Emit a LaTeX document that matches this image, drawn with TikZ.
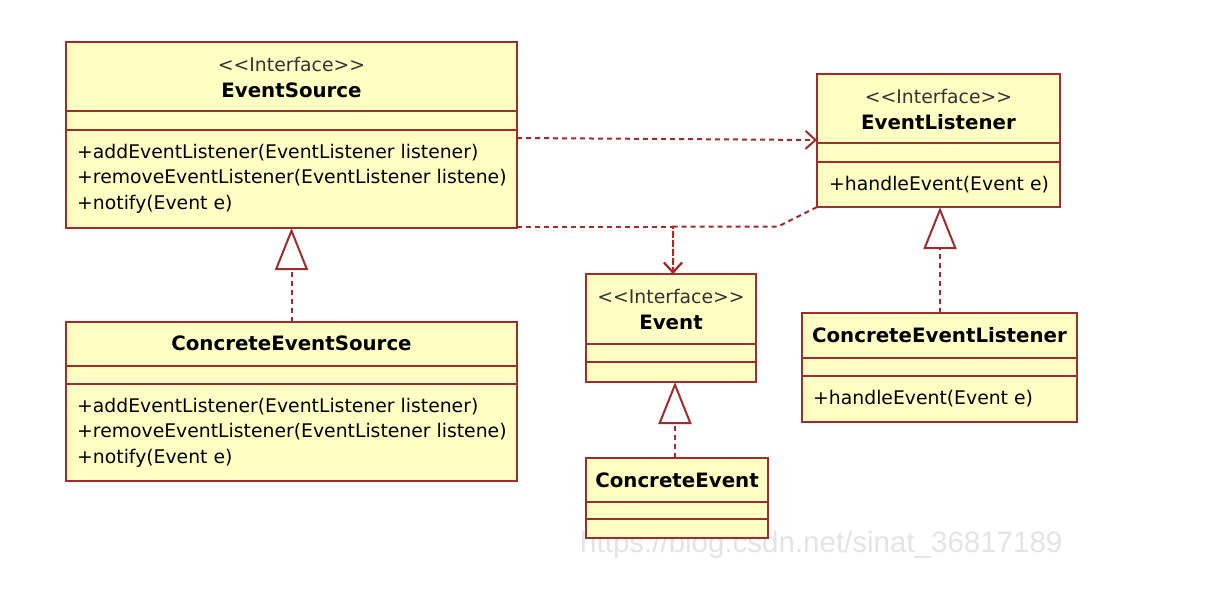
\documentclass[tikz,border=0pt]{standalone}
\usepackage{fontspec}
\setmainfont{DejaVu Sans}
\newfontfamily\wmfont{Liberation Sans}
\usetikzlibrary{arrows.meta}
\definecolor{umlborder}{RGB}{160,45,45}
\definecolor{umlfill}{RGB}{255,255,196}
\definecolor{wmgray}{RGB}{228,228,228}
\newcommand\stereoI{<\kern0pt<Interface>\kern0pt>}
\begin{document}
\begin{tikzpicture}[x=1pt,y=-1pt,
  cls/.style={draw=umlborder, fill=umlfill, line width=2pt, anchor=north west, inner sep=0pt, outer sep=0pt},
  sep/.style={draw=umlborder, line width=2pt},
  txt/.style={font=\fontsize{18.8}{21}\selectfont, inner sep=0pt, text=black, anchor=base},
  ster/.style={txt, text=black!80},
  ttl/.style={txt, font=\fontsize{19.8}{22}\selectfont\bfseries},
  meth/.style={txt, anchor=base west},
  dep/.style={draw=umlborder, line width=2pt, dash pattern=on 5pt off 4pt, -{Straight Barb[length=10pt,width=18pt]}},
  real/.style={draw=umlborder, line width=2pt, dash pattern=on 5pt off 4pt, -{Triangle[open,length=42pt,width=33pt]}},
]
\useasboundingbox (0,0) rectangle (1210,595);
\fill[white] (0,0) rectangle (1210,595);

% watermark
\node[anchor=west, inner sep=0pt, text=wmgray, font=\wmfont\fontsize{29.5}{32}\selectfont] (wm) at (580,545) {https://blog.csdn.net/sinat\_36817189};

% ---------- EventSource
\node[cls, minimum width=451pt, minimum height=186pt] (es) at (66,42) {};
\draw[sep] ([yshift=-69pt]es.north west) -- ([yshift=-69pt]es.north east);
\draw[sep] ([yshift=-88pt]es.north west) -- ([yshift=-88pt]es.north east);
\node[ster] (esS) at ([yshift=-29pt]es.north) {\stereoI};
\node[ttl] (esT) at ([yshift=-55pt]es.north) {EventSource};
\node[meth] (esM1) at ([xshift=11pt,yshift=-116pt]es.north west) {+addEventListener(EventListener listener)};
\node[meth] (esM2) at ([xshift=11pt,yshift=-141.5pt]es.north west) {+removeEventListener(EventListener listene)};
\node[meth] (esM3) at ([xshift=11pt,yshift=-167pt]es.north west) {+notify(Event e)};

% ---------- ConcreteEventSource
\node[cls, minimum width=451pt, minimum height=159pt] (ces) at (66,322) {};
\draw[sep] ([yshift=-44pt]ces.north west) -- ([yshift=-44pt]ces.north east);
\draw[sep] ([yshift=-62pt]ces.north west) -- ([yshift=-62pt]ces.north east);
\node[ttl] (cesT) at ([yshift=-28pt]ces.north) {ConcreteEventSource};
\node[meth] (cesM1) at ([xshift=11pt,yshift=-90pt]ces.north west) {+addEventListener(EventListener listener)};
\node[meth] (cesM2) at ([xshift=11pt,yshift=-115.5pt]ces.north west) {+removeEventListener(EventListener listene)};
\node[meth] (cesM3) at ([xshift=11pt,yshift=-141pt]ces.north west) {+notify(Event e)};

% ---------- EventListener
\node[cls, minimum width=243pt, minimum height=133pt] (el) at (817,74) {};
\draw[sep] ([yshift=-69pt]el.north west) -- ([yshift=-69pt]el.north east);
\draw[sep] ([yshift=-88pt]el.north west) -- ([yshift=-88pt]el.north east);
\node[ster] (elS) at ([yshift=-29pt]el.north) {\stereoI};
\node[ttl] (elT) at ([yshift=-55pt]el.north) {EventListener};
\node[meth] (elM1) at ([xshift=12pt,yshift=-116pt]el.north west) {+handleEvent(Event e)};

% ---------- ConcreteEventListener
\node[cls, minimum width=275pt, minimum height=109pt] (cel) at (802,313) {};
\draw[sep] ([yshift=-45pt]cel.north west) -- ([yshift=-45pt]cel.north east);
\draw[sep] ([yshift=-63pt]cel.north west) -- ([yshift=-63pt]cel.north east);
\node[ttl] (celT) at ([yshift=-29.5pt]cel.north) {ConcreteEventListener};
\node[meth] (celM1) at ([xshift=11pt,yshift=-91pt]cel.north west) {+handleEvent(Event e)};

% ---------- Event
\node[cls, minimum width=170pt, minimum height=108pt] (ev) at (586,274) {};
\draw[sep] ([yshift=-70pt]ev.north west) -- ([yshift=-70pt]ev.north east);
\draw[sep] ([yshift=-88pt]ev.north west) -- ([yshift=-88pt]ev.north east);
\node[ster] (evS) at ([yshift=-29pt]ev.north) {\stereoI};
\node[ttl] (evT) at ([yshift=-55pt]ev.north) {Event};

% ---------- ConcreteEvent
\node[cls, minimum width=182pt, minimum height=80pt] (ce) at (586,458) {};
\draw[sep] ([yshift=-44pt]ce.north west) -- ([yshift=-44pt]ce.north east);
\draw[sep] ([yshift=-61pt]ce.north west) -- ([yshift=-61pt]ce.north east);
\node[ttl] (ceT) at ([yshift=-29pt]ce.north) {ConcreteEvent};

% ---------- connectors
\coordinate (cx) at (675,0);
\coordinate (lx) at (940,0);
\coordinate (j) at (673,226.5);
\coordinate (k) at (778,226.5);

% realizations
\draw[real] (ces.north) -- (es.south);
\draw[real] (ce.north -| cx) -- (ev.south -| cx);
\draw[real] (cel.north -| lx) -- (el.south -| lx);

% dependencies
\draw[dep] ([yshift=-96pt]es.north east) -- ([yshift=-66pt]el.north west);
\draw[dep] ([yshift=1.5pt]es.south east) -- (j) -- (j |- ev.north);
\draw[dep] (el.south west) -- (k) -- (j) -- (j |- ev.north);
\end{tikzpicture}
\end{document}
